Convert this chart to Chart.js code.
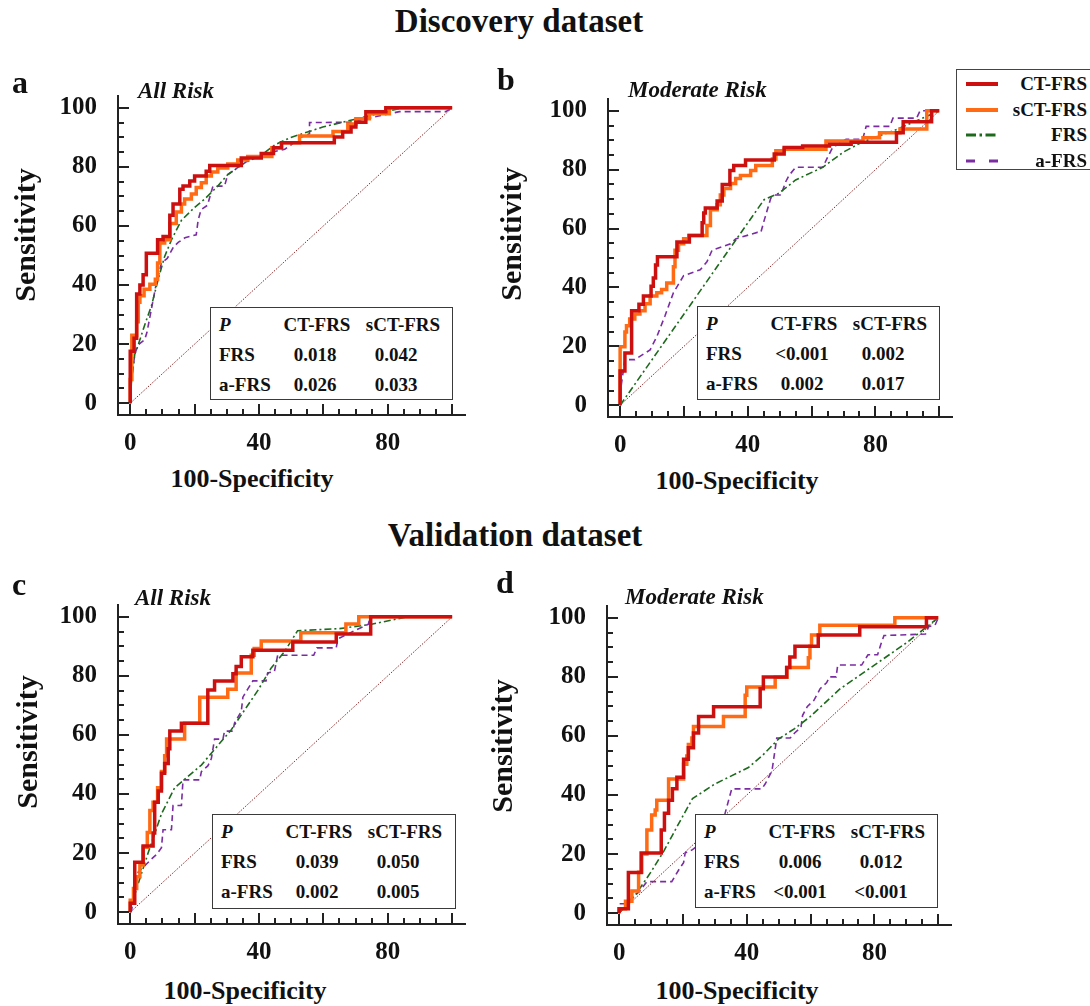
<!DOCTYPE html>
<html>
<head>
<meta charset="utf-8">
<script src="https://cdn.jsdelivr.net/npm/chart.js@4.4.0/dist/chart.umd.min.js"></script>
<style>
  body { margin: 0; width: 1090px; height: 1006px; background: #fff; position: relative; overflow: hidden;
         font-family: 'Liberation Serif', 'Times New Roman', serif; font-weight: bold; color: #111; }
  canvas { position: absolute; }
  .t { position: absolute; white-space: nowrap; line-height: 1; }
  .ptab { position: absolute; box-sizing: border-box; border: 1.5px solid #3a3a3a; background: #fff; }
  #legend { position: absolute; left: 956px; top: 69px; width: 150px; height: 101px; box-sizing: border-box;
            border: 1.5px solid #444; background: #fff; }
  #legend svg { position: absolute; left: 9px; }
</style>
</head>
<body>
<script>
// ---- ticks, names ----
const xTickLabels = [0, 40, 80];
const yTickLabels = [0, 20, 40, 60, 80, 100];
const seriesNames = ['CT-FRS', 'sCT-FRS', 'FRS', 'a-FRS'];
const tableHeader = ['P', 'CT-FRS', 'sCT-FRS'];
const tableRows = ['FRS', 'a-FRS'];

// ---- a: Discovery, All Risk ----
const aCtX = [0, 1.2, 2.0, 3.0, 4.0, 5.0, 8.5, 10.2, 12.3, 13.3, 15.4, 16.4, 18.5, 20.0, 23.6, 24.7, 34.5, 40.7, 44.5, 47.0, 63.4, 66.0, 68.6, 70.1, 73.2, 79.4, 100];
const aCtY = [0, 17.6, 22, 37, 40, 43.5, 50.8, 55.3, 56.4, 63.6, 67.4, 72.4, 73.5, 75.2, 76.9, 78.5, 80.5, 83, 84.5, 86.5, 88.2, 90.1, 91.8, 93.5, 95.1, 98.7, 100];
const aOrX = [0, 0.5, 2.0, 2.5, 3.0, 4.3, 6.1, 7.8, 8.5, 9.2, 10.7, 12.3, 14.3, 15.9, 16.9, 19.0, 20.5, 22.1, 23.6, 25.2, 27.2, 30.3, 33.4, 36.5, 44.0, 47.0, 52.6, 63.0, 67.6, 70.1, 74.3, 80.5, 100];
const aOrY = [0, 8, 23, 27.6, 34.2, 36.4, 38.6, 40.3, 42, 47.5, 54.2, 55.3, 60.8, 64.7, 67.4, 69.1, 70.8, 73, 74.6, 76.9, 78.3, 79.6, 81, 82.3, 83.5, 86.5, 88.2, 90.5, 92, 94.5, 96.3, 98, 100];
const aFrsX = [0, 0.4, 1.4, 2.5, 4.5, 6.6, 8.7, 10.7, 12.8, 15.9, 20.0, 23.1, 27.2, 30.3, 35.5, 40.7, 45.0, 49.5, 59.8, 70.1, 84.6, 100];
const aFrsY = [0, 7.6, 16.5, 19.8, 26.5, 33, 42, 49.7, 55.3, 61.9, 66.3, 69.1, 73.5, 77.4, 81.3, 84, 87.5, 89.8, 93.5, 96.2, 100, 100];
const aAfX = [0, 0.4, 1.5, 2.5, 4.5, 5.2, 6.6, 8.0, 9.7, 11.5, 13.5, 15.0, 17.0, 20.5, 21.1, 22.0, 24.0, 25.7, 29.3, 30.3, 33.0, 35.5, 37.0, 40.7, 44.0, 48.0, 50.0, 53.0, 55.7, 55.7, 68.1, 83.6, 98.0, 100];
const aAfY = [0, 8.7, 17, 19.8, 21.5, 24, 32, 40, 47.5, 49, 53, 54.5, 56, 57, 62, 65.5, 67, 73.5, 73.5, 77.4, 79.5, 81.3, 82.5, 84, 85, 86, 87.5, 90, 91.2, 95, 95.1, 98.7, 98.7, 100];

// ---- b: Discovery, Moderate Risk ----
const bCtX = [0, 1.5, 3.6, 5.9, 7.3, 9.7, 10.4, 11.1, 11.7, 17.8, 21.7, 25.7, 26.2, 26.7, 30.4, 32.0, 34.4, 35.6, 39.3, 48.3, 51.4, 57.2, 65.6, 72.4, 86.6, 88.7, 97.6, 100];
const bCtY = [0, 11.6, 17.7, 32.1, 34.3, 37.1, 40.4, 43.2, 47.6, 50.4, 55.4, 57.6, 62, 65.3, 67, 69.4, 75, 79.7, 81.4, 83.3, 85.3, 87.5, 88, 88.6, 89.3, 92.5, 96.3, 100];
const bOrX = [0, 1.5, 2.0, 3.0, 4.6, 6.2, 7.8, 9.4, 11.5, 13.0, 14.6, 16.7, 17.2, 18.3, 19.9, 21.5, 27.2, 28.3, 30.4, 31.4, 32.5, 34.6, 36.2, 37.7, 40.9, 42.5, 47.7, 48.8, 51.4, 64.5, 76.1, 81.3, 87.7, 96.1, 100];
const bOrY = [0, 19.9, 24.9, 27, 29.3, 31, 32.1, 34.5, 37.1, 38.2, 39.3, 41.5, 47, 52.6, 54.8, 56.5, 57.6, 61, 66.4, 68.1, 71.4, 73.6, 75.3, 77, 78, 79.7, 81.4, 83.6, 86.4, 86.9, 89.7, 90.8, 92.5, 93.8, 100];
const bFrsX = [0, 45.1, 49.8, 55.0, 63.5, 70.0, 76.1, 86.6, 100];
const bFrsY = [0, 69.8, 72, 76.5, 80.8, 86, 89.5, 93.6, 100];
const bAfX = [0, 0.4, 1.5, 4.6, 9.4, 11.5, 14.1, 16.7, 19.9, 25.1, 27.2, 28.8, 34.6, 36.2, 43.0, 44.1, 45.1, 47.2, 48.3, 50.4, 51.9, 52.9, 55.0, 63.5, 65.0, 66.6, 70.8, 76.0, 77.1, 84.5, 85.5, 92.9, 94.0, 100];
const bAfY = [0, 7.2, 15.5, 15.5, 18.8, 23.3, 30.5, 38.2, 44, 46, 48.7, 52.6, 54.8, 56.5, 58.7, 58.7, 62.6, 70.3, 71.4, 71.4, 75.9, 78, 80.8, 80.8, 84.2, 87.5, 90.3, 90.3, 94.7, 94.7, 97.5, 97.5, 100, 100];

// ---- c: Validation, All Risk ----
const cCtX = [0, 1.4, 4.0, 7.1, 7.6, 8.7, 9.7, 10.7, 11.8, 12.3, 15.9, 24.1, 26.2, 31.9, 32.9, 34.5, 38.1, 50.5, 64.0, 74.7, 100];
const cCtY = [0, 3, 16.9, 22.4, 26.8, 37.2, 41, 47, 50.3, 55.3, 61.3, 64, 75.2, 78.3, 80.7, 83.2, 86.5, 88.7, 91.5, 94.2, 100];
const cOrX = [0, 1.0, 2.0, 3.0, 4.0, 5.3, 6.1, 7.1, 8.5, 9.7, 10.7, 11.3, 16.9, 21.6, 30.3, 32.9, 37.6, 38.5, 40.7, 53.0, 67.0, 71.0, 100];
const cOrY = [0, 4, 8, 12, 16, 22, 27, 34.4, 37.2, 42.1, 47.6, 53, 58.6, 64, 72.8, 75.5, 81, 87, 89.3, 91.8, 94.6, 97.6, 100];
const cFrsX = [0, 0.4, 5.6, 9.7, 13.8, 22.1, 27.2, 31.4, 35.5, 39.6, 43.8, 47.9, 52.0, 65.0, 75.0, 86.0, 100];
const cFrsY = [0, 2.6, 20.2, 33.3, 42.1, 49.8, 56.4, 61.8, 68.4, 75, 82.7, 88.2, 95.3, 96, 97.5, 100, 100];
const cAfX = [0, 0.4, 1.5, 2.5, 4.6, 6.6, 8.2, 9.7, 10.2, 12.8, 13.3, 15.9, 16.4, 21.6, 22.1, 24.1, 25.2, 26.2, 28.8, 29.3, 31.9, 32.4, 34.5, 35.0, 36.5, 38.1, 42.2, 42.7, 44.8, 45.8, 57.0, 58.0, 64.0, 64.5, 70.0, 74.0, 74.5, 100];
const cAfY = [0, 0.5, 8, 13.6, 15.8, 18, 19.6, 21.8, 27.9, 27.9, 36.1, 36.1, 44.8, 44.8, 47.6, 49.5, 52, 58.6, 58.6, 61.3, 61.3, 64, 68, 72.8, 75.5, 78.3, 78.3, 81, 81.5, 87, 87, 89.5, 89.5, 92.5, 95.5, 97.5, 100, 100];

// ---- d: Validation, Moderate Risk ----
const dCtX = [0, 2.9, 6.9, 13.2, 14.2, 15.5, 16.7, 18.1, 20.2, 21.7, 23.3, 24.9, 29.6, 44.2, 45.2, 52.5, 53.5, 55.1, 62.4, 75.4, 96.3, 100];
const dCtY = [0, 1.5, 13.8, 20.4, 28.2, 33.8, 38.2, 42.1, 46, 52.1, 56, 61, 66.6, 69.9, 76, 80, 83.2, 86.7, 90.4, 94.2, 97, 100];
const dOrX = [0, 2.0, 4.0, 6.1, 7.1, 8.7, 10.2, 11.3, 11.8, 15.5, 20.2, 21.2, 21.7, 22.8, 23.3, 32.7, 39.5, 40.0, 48.9, 52.6, 59.3, 59.8, 60.3, 62.9, 86.4, 100];
const dOrY = [0, 1.5, 4, 7.5, 13.9, 20, 28.2, 33.2, 34.9, 38.2, 45.4, 50.4, 53.2, 57.1, 59.3, 63.2, 66.6, 73.8, 76.6, 79.9, 83.2, 86.5, 90.4, 94.2, 97.5, 100];
const dFrsX = [0, 5, 10, 14, 18, 23, 30.1, 40.5, 45, 50, 55, 59.8, 69.2, 80, 90, 100];
const dFrsY = [0, 6, 14, 21, 29, 38.8, 43.8, 49.3, 53.5, 59, 62.5, 66.5, 75.9, 84, 91.5, 100];
const dAfX = [0, 0, 2, 4, 6.5, 8.7, 16.5, 17.6, 19.1, 20.2, 20.7, 23, 26, 30, 32.5, 33.2, 34.3, 35.3, 44.7, 45.8, 47.9, 49.4, 53.6, 55, 57, 57.5, 59, 61, 63, 65, 66, 68, 68.5, 76, 78, 81, 82, 83, 96, 97, 99, 100];
const dAfY = [0, 3.2, 3.2, 5, 7.5, 10.7, 10.7, 12.7, 15.4, 17.1, 20.4, 21.5, 24, 28, 31, 33.8, 38.2, 42.1, 42.1, 43.8, 48.2, 59.3, 59.3, 61, 63, 67, 70, 72, 76, 78, 80, 80, 84, 84, 87.5, 87.5, 91, 94, 94.5, 97, 97.5, 100];

// ---- P values ----
const pA = [['0.018', '0.042'], ['0.026', '0.033']];
const pB = [['<0.001', '0.002'], ['0.002', '0.017']];
const pC = [['0.039', '0.050'], ['0.002', '0.005']];
const pD = [['0.006', '0.012'], ['<0.001', '<0.001']];

const FONT = "'Liberation Serif', 'Times New Roman', serif";
const lineStyles = [
  { color: '#cc1010', width: 3.5, dash: [], stepped: 'after' },
  { color: '#ff6a14', width: 3.5, dash: [], stepped: 'after' },
  { color: '#1d6a1d', width: 1.6, dash: [7, 3, 2, 3], stepped: false },
  { color: '#7b2ca3', width: 1.6, dash: [6, 4], stepped: false }
];

// puts a text so that its baseline sits at "base"
const txt = (text, x, base, size, align, style, parent) => {
  const d = document.createElement('div');
  d.className = 't';
  d.textContent = text;
  d.style.left = x + 'px';
  d.style.top = (base - 0.8375 * size) + 'px';
  d.style.fontSize = size + 'px';
  if (align === 'center') d.style.transform = 'translateX(-50%)';
  if (align === 'right') d.style.transform = 'translateX(-100%)';
  if (style) Object.assign(d.style, style);
  (parent || document.body).appendChild(d);
  return d;
};

// inward tick marks every 5 units
const innerTicks = {
  id: 'innerTicks',
  afterDraw(chart) {
    const { ctx, scales: { x, y } } = chart;
    ctx.save();
    ctx.strokeStyle = '#222';
    ctx.lineWidth = 2;
    for (let v = 0; v <= 100; v += 5) {
      const len = v % 20 === 0 ? 11 : 6;
      const px = Math.round(x.getPixelForValue(v));
      ctx.beginPath(); ctx.moveTo(px, y.bottom); ctx.lineTo(px, y.bottom - len); ctx.stroke();
      const py = Math.round(y.getPixelForValue(v));
      ctx.beginPath(); ctx.moveTo(x.left, py); ctx.lineTo(x.left + len, py); ctx.stroke();
    }
    ctx.restore();
  }
};

const makePanel = (area, curves) => {
  const cv = document.createElement('canvas');
  const w = area.r - area.l + 118 + 15;
  const h = area.b - area.t + 30 + 45;
  cv.width = w; cv.height = h;
  cv.style.left = (area.l - 118) + 'px';
  cv.style.top = (area.t - 30) + 'px';
  document.body.appendChild(cv);

  const datasets = curves.map(([xs, ys], i) => ({
    label: seriesNames[i],
    data: xs.map((x, k) => ({ x, y: ys[k] })),
    showLine: true,
    pointRadius: 0,
    borderColor: lineStyles[i].color,
    borderWidth: lineStyles[i].width,
    borderDash: lineStyles[i].dash,
    stepped: lineStyles[i].stepped,
    borderJoinStyle: 'miter',
    tension: 0
  }));
  // chance line
  datasets.push({
    label: 'ref',
    data: [{ x: 0, y: 0 }, { x: 100, y: 100 }],
    showLine: true, pointRadius: 0,
    borderColor: '#8a2424', borderWidth: 1, borderDash: [1.5, 1.5]
  });

  const tickFont = { family: FONT, size: 25, weight: 'bold' };
  new Chart(cv, {
    type: 'scatter',
    data: { datasets },
    options: {
      responsive: false,
      animation: false,
      layout: { padding: { top: 30, right: 15, left: 0, bottom: 0 } },
      plugins: { legend: { display: false }, tooltip: { enabled: false } },
      scales: {
        x: {
          type: 'linear', min: -3.8, max: 104,
          grid: { display: false, drawTicks: false },
          border: { display: true, color: '#222', width: 2 },
          ticks: { font: tickFont, color: '#111', padding: 14 },
          afterBuildTicks: s => { s.ticks = xTickLabels.map(v => ({ value: v })); },
          afterFit: s => { s.height = 45; }
        },
        y: {
          type: 'linear', min: -4, max: 104,
          grid: { display: false, drawTicks: false },
          border: { display: true, color: '#222', width: 2 },
          ticks: { font: tickFont, color: '#111', padding: 21 },
          afterBuildTicks: s => { s.ticks = yTickLabels.map(v => ({ value: v })); },
          afterFit: s => { s.width = 118; }
        }
      }
    },
    plugins: [innerTicks]
  });
};

const pTable = (left, top, w, h, vals) => {
  const box = document.createElement('div');
  box.className = 'ptab';
  Object.assign(box.style, { left: left + 'px', top: top + 'px', width: w + 'px', height: h + 'px' });
  document.body.appendChild(box);
  const rows = [tableHeader, [tableRows[0], ...vals[0]], [tableRows[1], ...vals[1]]];
  rows.forEach((r, i) => {
    const base = 23 + i * 30;
    txt(r[0], 8, base, 19, 'left', i === 0 ? { fontStyle: 'italic' } : null, box);
    txt(r[1], i === 0 ? 106 : 104, base, 19, 'center', null, box);
    txt(r[2], i === 0 ? 192 : 185, base, 19, 'center', null, box);
  });
};

// section titles
txt('Discovery dataset', 519, 33, 33, 'center');
txt('Validation dataset', 515, 547, 33, 'center');

// panels
makePanel({ l: 118, t: 90, r: 465, b: 415 }, [[aCtX, aCtY], [aOrX, aOrY], [aFrsX, aFrsY], [aAfX, aAfY]]);
makePanel({ l: 608, t: 93, r: 952, b: 417 }, [[bCtX, bCtY], [bOrX, bOrY], [bFrsX, bFrsY], [bAfX, bAfY]]);
makePanel({ l: 118, t: 599, r: 465, b: 924 }, [[cCtX, cCtY], [cOrX, cOrY], [cFrsX, cFrsY], [cAfX, cAfY]]);
makePanel({ l: 607, t: 600, r: 951, b: 925 }, [[dCtX, dCtY], [dOrX, dOrY], [dFrsX, dFrsY], [dAfX, dAfY]]);

pTable(210, 307, 243, 93, pA);
pTable(697, 306, 243, 94, pB);
pTable(212, 814, 244, 95, pC);
pTable(695, 814, 243, 94, pD);

// panel letters and subtitles
txt('a', 12, 93, 32, 'left');
txt('b', 497, 90, 32, 'left');
txt('c', 12, 595, 32, 'left');
txt('d', 496, 593, 32, 'left');
const it = { fontStyle: 'italic' };
txt('All Risk', 138, 98, 23, 'left', it);
txt('Moderate Risk', 628, 97, 23, 'left', it);
txt('All Risk', 135, 605, 23, 'left', it);
txt('Moderate Risk', 625, 604, 23, 'left', it);

// axis titles
[[25, 235], [511, 234], [27, 742], [502, 746]].forEach(([cx, cy]) => {
  const d = txt('Sensitivity', cx, cy, 30, 'left');
  d.style.top = cy + 'px';
  d.style.transform = 'translate(-50%, -50%) rotate(-90deg)';
});
[[252, 488], [737, 490], [245, 1000], [737, 1000]].forEach(([cx, base]) => {
  txt('100-Specificity', cx, base, 26, 'center');
});

// legend
const legend = document.createElement('div');
legend.id = 'legend';
document.body.appendChild(legend);
const legendDash = ['', '', '10 3.5 2.5 3.5', '9 14'];
const legendWidth = [4, 4, 3, 3];
seriesNames.forEach((name, i) => {
  const cy = 14 + i * 25.5;
  const s = document.createElementNS('http://www.w3.org/2000/svg', 'svg');
  s.setAttribute('width', 32); s.setAttribute('height', 8);
  s.style.top = (cy - 4) + 'px';
  s.innerHTML = `<line x1="0" y1="4" x2="32" y2="4" stroke="${lineStyles[i].color}" stroke-width="${legendWidth[i]}"` +
    (legendDash[i] ? ` stroke-dasharray="${legendDash[i]}"` : '') + '/>';
  legend.appendChild(s);
  txt(name, 130, cy + 6.3, 19, 'right', null, legend);
});
</script>
</body>
</html>
